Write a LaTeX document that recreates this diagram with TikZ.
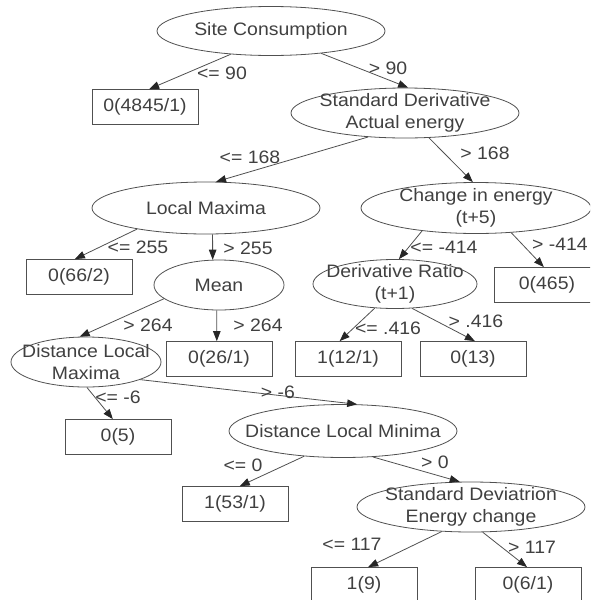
\documentclass[tikz,border=0pt]{standalone}
\usepackage{fontspec}
\setmainfont{Liberation Sans}[FakeStretch=1.08]
\usetikzlibrary{arrows.meta,shapes.geometric}
\definecolor{txt}{HTML}{404040}
\definecolor{ln}{HTML}{505050}
\begin{document}
\begin{tikzpicture}[x=1pt,y=-1pt,
  every node/.style={font=\fontsize{18}{22}\selectfont, text=txt},
  test/.style={ellipse, draw=ln, line width=0.8pt, inner sep=-40pt, align=center},
  leaf/.style={rectangle, draw=ln, line width=0.8pt, inner sep=0pt, minimum width=106pt, minimum height=35pt},
  conn/.style={draw=ln, line width=0.8pt, -{Triangle[length=10pt,width=7.5pt,color=black!85]}},
  lbl/.style={inner sep=0pt}]
\useasboundingbox (0,0) rectangle (590,600);
\clip (0,0) rectangle (590,600);
\node[test, minimum width=228pt, minimum height=49pt] (sc) at (271,31) {Site Consumption};
\node[leaf] (l1) at (145,107) {0(4845/1)};
\node[test, minimum width=228pt, minimum height=50pt] (sd) at (405,113) {Standard Derivative\\Actual energy};
\node[test, minimum width=228pt, minimum height=52pt] (lm) at (206,208) {Local Maxima};
\node[test, minimum width=230pt, minimum height=51pt] (ce) at (476,208) {Change in energy\\(t+5)};
\node[leaf] (l2) at (79,277) {0(66/2)};
\node[test, minimum width=130pt, minimum height=50pt] (mean) at (219,285) {Mean};
\node[test, minimum width=164pt, minimum height=49pt] (dr) at (395,284) {Derivative Ratio\\(t+1)};
\node[leaf] (l3) at (547,285) {0(465)};
\node[test, minimum width=150pt, minimum height=50pt] (dx) at (86,362) {Distance Local\\Maxima};
\node[leaf] (l4) at (219,359) {0(26/1)};
\node[leaf] (l5) at (348,359) {1(12/1)};
\node[leaf] (l6) at (473,359) {0(13)};
\node[leaf] (l7) at (118,437) {0(5)};
\node[test, minimum width=228pt, minimum height=53pt] (dn) at (343,431) {Distance Local Minima};
\node[leaf] (l8) at (235,504) {1(53/1)};
\node[test, minimum width=228pt, minimum height=50pt] (se) at (471,507) {Standard Deviatrion\\Energy change};
\node[leaf] (l9) at (364,585) {1(9)};
\node[leaf] (l10) at (528,585) {0(6/1)};

\draw[conn] (sc.210) -- (l1.77);
\draw[conn] (sc.336) -- (sd.83);
\draw[conn] (sd.213) -- (lm.69);
\draw[conn] (sd.314) -- (ce.97);
\draw[conn] (lm.197) -- (l2.103);
\draw[conn] (lm.284) -- (mean.104);
\draw[conn] (ce.203) -- (dr.81);
\draw[conn] (ce.325) -- (l3.100);
\draw[conn] (mean.194) -- (dx.104);
\draw[conn] (mean.265) -- (l4.97);
\draw[conn] (dr.230) -- (l5.115);
\draw[conn] (dr.305) -- (l6.84);
\draw[conn] (dx.272) -- (l7.106);
\draw[conn] (dx.342) -- (dn.62);
\draw[conn] (dn.213) -- (l8.75);
\draw[conn] (dn.319) -- (se.114);
\draw[conn] (se.220) -- (l9.77);
\draw[conn] (se.295) -- (l10.93);

\node[lbl] (e1) at (222,73) {<= 90};
\node[lbl] (e2) at (388,68) {> 90};
\node[lbl] (e3) at (250,157) {<= 168};
\node[lbl] (e4) at (485,153) {> 168};
\node[lbl] (e5) at (138,247) {<= 255};
\node[lbl] (e6) at (248,248) {> 255};
\node[lbl] (e7) at (444,247) {<= -414};
\node[lbl, anchor=east] (e8) at (588,244) {> -414};
\node[lbl] (e9) at (148,325) {> 264};
\node[lbl] (e10) at (258,325) {> 264};
\node[lbl] (e11) at (388,328) {<= .416};
\node[lbl] (e12) at (476,321) {> .416};
\node[lbl] (e13) at (118,397) {<= -6};
\node[lbl] (e14) at (278,392) {> -6};
\node[lbl] (e15) at (243,465) {<= 0};
\node[lbl] (e16) at (435,462) {> 0};
\node[lbl] (e17) at (352,544) {<= 117};
\node[lbl] (e18) at (532,547) {> 117};
\end{tikzpicture}
\end{document}
